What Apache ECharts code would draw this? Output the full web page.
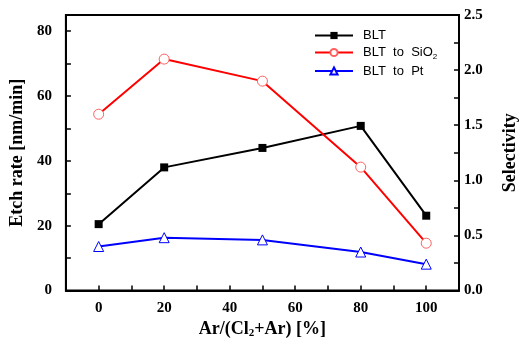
<!DOCTYPE html>
<html>
<head>
<meta charset="utf-8">
<script src="https://cdn.jsdelivr.net/npm/echarts@6/dist/echarts.min.js"></script>
<style>
  html, body { margin: 0; padding: 0; background: #fff; }
  #chart { width: 527px; height: 344px; }
</style>
</head>
<body>
<div id="chart"></div>
<script>
  // Ar/(Cl2+Ar) ratio [%]
  const arRatio = [0, 20, 50, 80, 100]
  // etch rate of BLT [nm/min], left axis
  const bltEtchRate = [20.5, 38.0, 44.0, 50.8, 23.1]
  // selectivities, right axis
  const selSiO2 = [1.60, 2.10, 1.90, 1.12, 0.43]
  const selPt = [0.40, 0.48, 0.46, 0.35, 0.24]

  const serif = '"Liberation Serif", "Times New Roman", serif'
  const sans = '"Liberation Sans", Arial, sans-serif'

  const pairs = vals => arRatio.map((x, i) => [x, vals[i]])

  const chart = echarts.init(document.getElementById('chart'))

  const tickLabel = {
    fontFamily: serif,
    fontWeight: 'bold',
    fontSize: 15,
    color: '#000'
  }
  const axisName = {
    fontFamily: serif,
    fontWeight: 'bold',
    fontSize: 18,
    color: '#000'
  }

  chart.setOption({
    animation: false,
    backgroundColor: '#fff',
    grid: {
      left: 63,
      right: 63,
      top: 15,
      bottom: 49,
      show: true,
      borderColor: '#000',
      borderWidth: 2,
      containLabel: false
    },
    legend: {
      orient: 'vertical',
      left: 309,
      top: 24,
      itemWidth: 38,
      itemHeight: 9,
      itemGap: 4,
      data: ['BLT', 'BLT to SiO2', 'BLT to Pt'],
      formatter: function (name) {
        if (name === 'BLT to SiO2') return '{t|BLT  to  SiO}{s|2}'
        return '{t|' + name.replace(/ /g, '  ') + '}'
      },
      textStyle: {
        padding: [0, 0, 0, 5],
        rich: {
          t: { fontFamily: sans, fontSize: 13, color: '#000' },
          s: { fontFamily: sans, fontSize: 8, color: '#000', padding: [8, 0, 0, 0] }
        }
      }
    },
    xAxis: {
      type: 'value',
      min: -10,
      max: 110,
      interval: 10,
      splitLine: { show: false },
      axisLine: { onZero: false, lineStyle: { color: '#000', width: 2 } },
      axisTick: { inside: true, length: 5, lineStyle: { color: '#000', width: 1.5 } },
      axisLabel: Object.assign({
        margin: 10,
        formatter: v => (v >= 0 && v <= 100 && v % 20 === 0) ? String(v) : ''
      }, tickLabel),
      name: '{a|Ar/(Cl}{s|2}{a|+Ar) [%]}',
      nameLocation: 'middle',
      nameGap: 27,
      nameTextStyle: {
        rich: {
          a: axisName,
          s: Object.assign({}, axisName, { fontSize: 11, padding: [8, 0, 0, 0] })
        }
      }
    },
    yAxis: [
      {
        type: 'value',
        min: 0,
        max: 85,
        interval: 10,
        splitLine: { show: false },
        axisLine: { show: true, onZero: false, lineStyle: { color: '#000', width: 2 } },
        axisTick: { show: true, inside: true, length: 5, lineStyle: { color: '#000', width: 1.5 } },
        axisLabel: Object.assign({
          margin: 14,
          formatter: v => (v % 20 === 0) ? String(v) : ''
        }, tickLabel),
        name: 'Etch rate [nm/min]',
        nameLocation: 'middle',
        nameRotate: 90,
        nameGap: 32,
        nameTextStyle: axisName
      },
      {
        type: 'value',
        position: 'right',
        min: 0,
        max: 2.5,
        interval: 0.25,
        splitLine: { show: false },
        axisLine: { show: true, onZero: false, lineStyle: { color: '#000', width: 2 } },
        axisTick: { show: true, inside: true, length: 5, lineStyle: { color: '#000', width: 1.5 } },
        axisLabel: Object.assign({
          margin: 5,
          formatter: v => (v % 0.5 === 0) ? v.toFixed(1) : ''
        }, tickLabel),
        name: 'Selectivity',
        nameLocation: 'middle',
        nameRotate: 90,
        nameGap: 42,
        nameTextStyle: axisName
      }
    ],
    series: [
      {
        name: 'BLT',
        type: 'line',
        yAxisIndex: 0,
        data: pairs(bltEtchRate),
        symbol: 'rect',
        symbolSize: 8,
        lineStyle: { color: '#000', width: 2 },
        itemStyle: { color: '#000' }
      },
      {
        name: 'BLT to SiO2',
        type: 'line',
        yAxisIndex: 1,
        data: pairs(selSiO2),
        symbol: 'circle',
        symbolSize: 10,
        lineStyle: { color: '#ff0000', width: 2 },
        itemStyle: { color: '#fff', borderColor: '#ff6060', borderWidth: 1 }
      },
      {
        name: 'BLT to Pt',
        type: 'line',
        yAxisIndex: 1,
        data: pairs(selPt),
        symbol: 'triangle',
        symbolSize: 10,
        lineStyle: { color: '#0000ff', width: 2 },
        itemStyle: { color: '#fff', borderColor: '#0000ff', borderWidth: 1 }
      }
    ]
  })
</script>
</body>
</html>
